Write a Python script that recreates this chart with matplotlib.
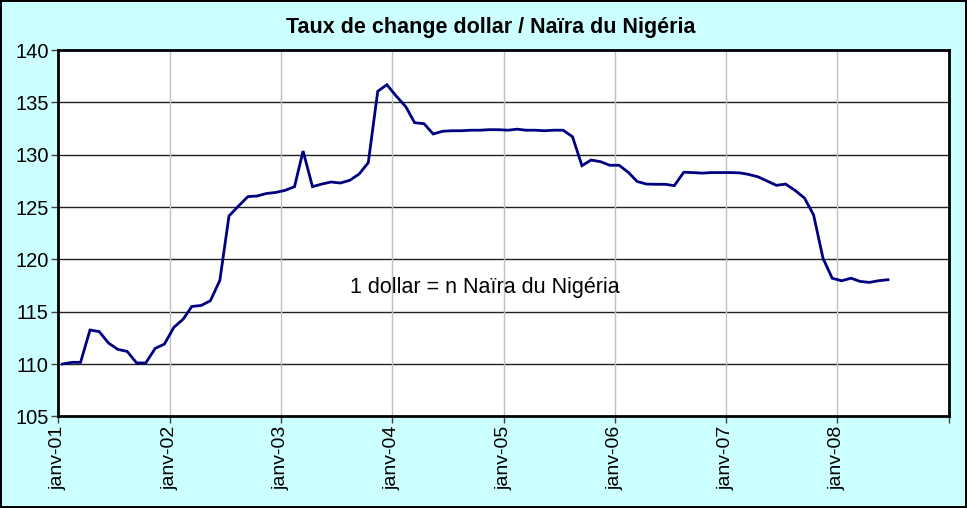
import matplotlib
matplotlib.use("Agg")
import matplotlib.pyplot as plt
import pandas as pd

plt.rcParams['font.family'] = ['Liberation Sans', 'DejaVu Sans']

title = "Taux de change dollar / Naïra du Nigéria"
annotation = "1 dollar = n Naïra du Nigéria"

start_month = "2001-01-01"
rates = [
    110.0, 110.16, 110.16, 113.25, 113.1, 112.0, 111.4, 111.2, 110.1, 110.1, 111.5, 111.9,
    113.5, 114.3, 115.5, 115.6, 116.05, 118.0, 124.15, 125.1, 126.0, 126.06, 126.3, 126.4,
    126.6, 126.95, 130.36, 126.95, 127.2, 127.4, 127.3, 127.56, 128.16, 129.25, 136.07, 136.7,
    135.6, 134.6, 133.07, 132.97, 131.99, 132.25, 132.3, 132.3, 132.35, 132.35, 132.4, 132.4,
    132.35, 132.45, 132.35, 132.35, 132.3, 132.35, 132.35, 131.73, 128.96, 129.5, 129.34, 129.0,
    129.0, 128.3, 127.45, 127.2, 127.18, 127.18, 127.05, 128.33, 128.3, 128.25, 128.3, 128.3,
    128.3, 128.27, 128.13, 127.9, 127.5, 127.08, 127.2, 126.6, 125.87, 124.25, 120.1, 118.2,
    117.96, 118.2, 117.9, 117.8, 117.96, 118.06,
]
tick_years = list(range(2001, 2010))
tick_labels = ["janv-01", "janv-02", "janv-03", "janv-04", "janv-05", "janv-06", "janv-07", "janv-08", ""]
y_ticks = [105, 110, 115, 120, 125, 130, 135, 140]

dates = pd.date_range(start_month, periods=len(rates), freq="MS") + pd.Timedelta(days=14)

fig = plt.figure(figsize=(9.67, 5.08), dpi=100)
fig.patch.set_facecolor("#CCFFFF")
fig.patch.set_edgecolor("black")
fig.patch.set_linewidth(1.5)

ax = fig.add_axes([0.0603, 0.1805, 0.9210, 0.7207])
ax.set_facecolor("white")
ax.plot(dates, rates, color="#000080", linewidth=2.0, solid_joinstyle="miter", zorder=3)

tick_dates = [pd.Timestamp(f"{y}-01-01") for y in tick_years]
ax.set_xlim(tick_dates[0], tick_dates[-1])
ax.set_xticks(tick_dates)
ax.set_xticklabels(tick_labels, rotation=90, fontsize=14)
ax.set_ylim(105, 140)
ax.set_yticks(y_ticks)
ax.set_yticklabels([str(v) for v in y_ticks], fontsize=14.5)

for v in y_ticks[1:-1]:
    ax.axhline(v, color="#202020", linewidth=1.0, zorder=1)
for d in tick_dates[1:-1]:
    ax.axvline(d, color="#C0C0C0", linewidth=1.0, zorder=1)

for s in ax.spines.values():
    s.set_linewidth(2.0)
    s.set_color("black")

ax.tick_params(axis="both", direction="out", length=5, width=1, color="#404040", pad=2)

ax.text(0.3276, 0.353, annotation, transform=ax.transAxes, fontsize=15.5,
        ha="left", va="center", color="black")

fig.text(0.507, 0.946, title, fontsize=15.5, fontweight="bold", ha="center", va="center")

fig.savefig("out.png", dpi=100, facecolor=fig.get_facecolor(), edgecolor=fig.get_edgecolor())
